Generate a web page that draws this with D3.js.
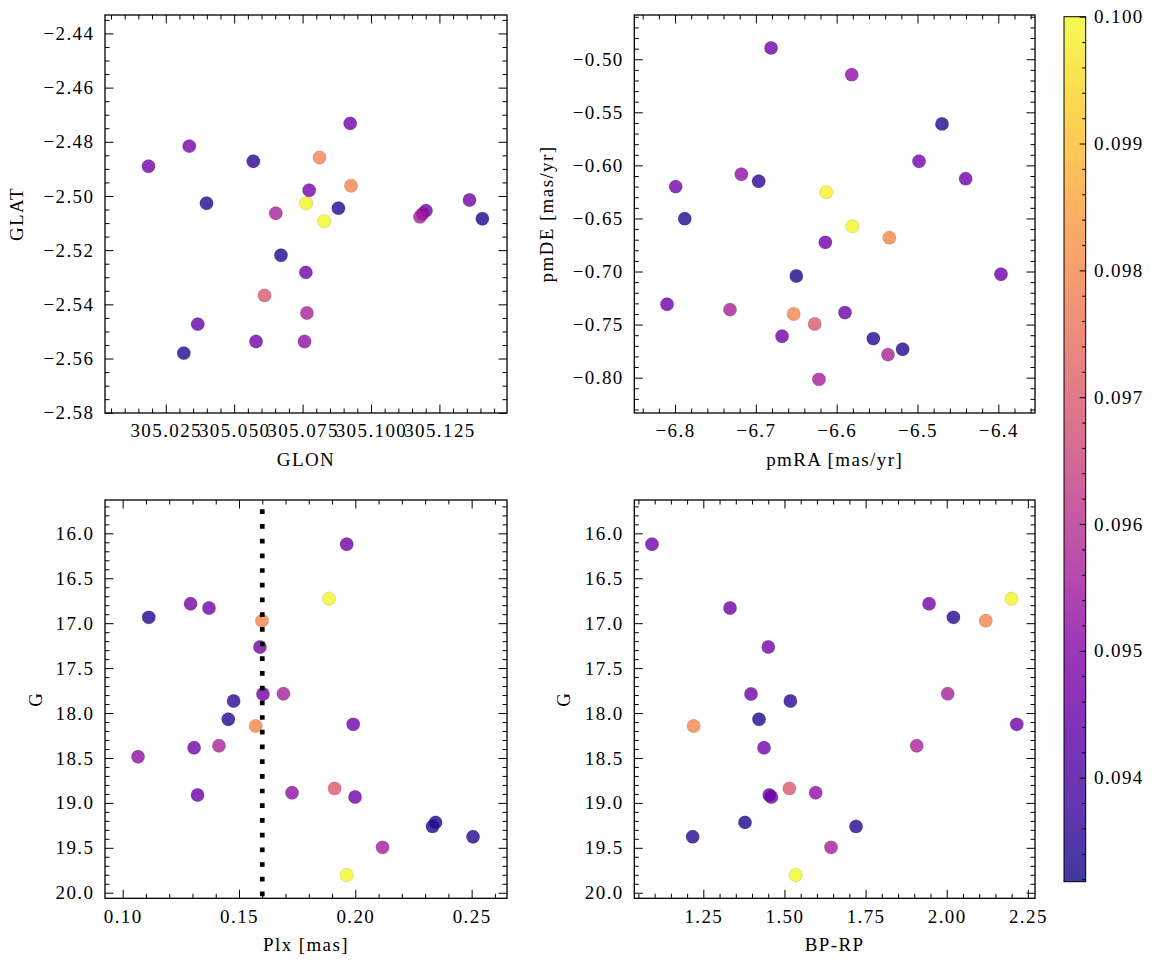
<!DOCTYPE html>
<html><head><meta charset="utf-8">
<script src="https://cdn.jsdelivr.net/npm/d3@7"></script>
<style>body{margin:0;background:#fff;}</style></head><body>
<svg id="c" width="1155" height="965"></svg>
<script>
// ---- data (25 stars) ----
const glon = [305.0187,305.0763,305.0336,305.0924,305.0399,305.0812,305.0774,305.1201,305.0652,305.0570,305.0881,305.1360,305.0927,305.0766,305.0762,305.0757,305.0611,305.1188,305.0367,305.0580,305.1407,305.0671,305.0316,305.1179,305.0829];
const glat = [-2.4890,-2.5027,-2.4816,-2.4732,-2.5027,-2.4858,-2.4979,-2.5054,-2.5064,-2.4872,-2.5045,-2.5015,-2.4962,-2.5432,-2.5282,-2.5537,-2.5367,-2.5066,-2.5473,-2.5537,-2.5084,-2.5219,-2.5580,-2.5077,-2.5093];
const pmra = [-6.6812,-6.6128,-6.4981,-6.4404,-6.4697,-6.5348,-6.7992,-6.6140,-6.7320,-6.6965,-6.7880,-6.3967,-6.6532,-6.5365,-6.8099,-6.5814,-6.6272,-6.7179,-6.5897,-6.6676,-6.6499,-6.5546,-6.5184,-6.6219,-6.5806];
const pmde = [-0.4893,-0.6253,-0.5961,-0.6125,-0.5609,-0.6681,-0.6200,-0.6725,-0.7359,-0.6150,-0.6502,-0.7026,-0.7400,-0.7783,-0.7309,-0.5145,-0.7494,-0.6084,-0.7387,-0.7610,-0.7042,-0.7632,-0.7733,-0.8016,-0.6574];
const plx  = [0.1963,0.1887,0.1292,0.1371,0.1112,0.1599,0.1590,0.1603,0.1691,0.1477,0.1454,0.1991,0.1572,0.1414,0.1307,0.1066,0.1911,0.1728,0.1322,0.1999,0.2345,0.2332,0.2506,0.2117,0.1963];
const gmag = [16.122,16.727,16.783,16.831,16.935,16.972,17.265,17.788,17.785,17.866,18.070,18.126,18.145,18.364,18.386,18.486,18.839,18.887,18.913,18.935,19.217,19.262,19.377,19.495,19.803];
const bprp = [1.0918,2.1994,1.9456,1.3322,2.0206,2.1202,1.4503,1.3969,2.0031,1.5182,1.4216,2.2158,1.2202,1.9076,1.4370,NaN,1.5151,1.5962,1.4534,1.4596,1.3784,1.7206,1.2171,1.6435,1.5346];
const cval = [0.0946,0.0999,0.0947,0.0946,0.0934,0.0980,0.0947,0.0946,0.0957,0.0935,0.0934,0.0946,0.0980,0.0957,0.0946,0.0952,0.0970,0.0952,0.0945,0.0946,0.0933,0.0934,0.0934,0.0956,0.1000];
const plxCut = 0.16;
const plxCutG = [15.733, 20.3];
const cbRange = [0.09318, 0.1000];
const cbMajor = [0.094,0.095,0.096,0.097,0.098,0.099,0.100];

// ---- drawing ----
const svg = d3.select("#c");
const color = d3.scaleSequential(d3.interpolatePlasma).domain(cbRange);
const FONT = '"Liberation Serif","Times New Roman",serif';
const FS = 19, LS = 1.4;

function tickVals(d, step){
  const lo=Math.min(d[0],d[1]), hi=Math.max(d[0],d[1]);
  const a=Math.ceil(lo/step-1e-6), b=Math.floor(hi/step+1e-6);
  return d3.range(a,b+1).map(i=>+(i*step).toFixed(6));
}
function minorOf(d, step, maj){
  return tickVals(d, step).filter(v=>!maj.some(m=>Math.abs(m-v)<step/10));
}
function txt(sel){
  return sel.style("font-family",FONT).style("font-size",FS+"px").style("letter-spacing",LS+"px").attr("fill","#000");
}

const panels = [
  {box:[105,15,507,413], xd:[305.0028,305.1497], yd:[-2.5801,-2.4332], xs:glon, ys:glat,
   xMaj:0.025,xMin:0.005,yMaj:0.02,yMin:0.005, xf:d3.format(".3f"), yf:d3.format(".2f"), xl:"GLON", yl:"GLAT", ylOff:81.7},
  {box:[634.3,15,1035,413], xd:[-6.8504,-6.3546], yd:[-0.8333,-0.4583], xs:pmra, ys:pmde,
   xMaj:0.1,xMin:0.02,yMaj:0.05,yMin:0.01, xf:d3.format(".1f"), yf:d3.format(".2f"), xl:"pmRA [mas/yr]", yl:"pmDE [mas/yr]", ylOff:81},
  {box:[105,500,507,898.3], xd:[0.0924,0.2652], yd:[20.062,15.629], xs:plx, ys:gmag,
   xMaj:0.05,xMin:0.01,yMaj:0.5,yMin:0.1, xf:d3.format(".2f"), yf:d3.format(".1f"), xl:"Plx [mas]", yl:"G", ylOff:63.5, vline:true},
  {box:[634.3,500,1035,898.3], xd:[1.0373,2.272], yd:[20.062,15.629], xs:bprp, ys:gmag,
   xMaj:0.25,xMin:0.05,yMaj:0.5,yMin:0.1, xf:d3.format(".2f"), yf:d3.format(".1f"), xl:"BP-RP", yl:"G", ylOff:64.5}
];

function styleAxis(g){
  g.select(".domain").remove();
  g.selectAll("line").attr("stroke","#000").attr("stroke-width",1);
  txt(g.selectAll("text"));
}

panels.forEach((p,pi)=>{
  const [x0,y0,x1,y1]=p.box;
  const x=d3.scaleLinear().domain(p.xd).range([x0,x1]);
  const y=d3.scaleLinear().domain(p.yd).range([y1,y0]);
  const xMaj=tickVals(p.xd,p.xMaj), xMin=minorOf(p.xd,p.xMin,xMaj);
  const yMaj=tickVals(p.yd,p.yMaj), yMin=minorOf(p.yd,p.yMin,yMaj);
  const g=svg.append("g");
  const clipId="clip"+pi;
  svg.append("clipPath").attr("id",clipId).append("rect")
    .attr("x",x0).attr("y",y0).attr("width",x1-x0).attr("height",y1-y0);

  const idx=d3.range(p.xs.length).filter(i=>isFinite(p.xs[i])&&isFinite(p.ys[i]));
  g.append("g").attr("clip-path",`url(#${clipId})`).selectAll("circle").data(idx).join("circle")
    .attr("cx",i=>x(p.xs[i])).attr("cy",i=>y(p.ys[i])).attr("r",6.7)
    .attr("fill",i=>color(cval[i])).attr("fill-opacity",0.8)
    .attr("stroke","#000").attr("stroke-opacity",0.18).attr("stroke-width",0.6);

  if(p.vline){
    g.append("line").attr("clip-path",`url(#${clipId})`)
      .attr("x1",x(plxCut)).attr("x2",x(plxCut))
      .attr("y1",y(plxCutG[0])).attr("y2",y(plxCutG[1]))
      .attr("stroke","#000").attr("stroke-width",4.7).attr("stroke-dasharray","4.7,10");
  }

  const mk=(axis,vals,size,fmt,pad)=>axis.tickValues(vals).tickSize(size).tickPadding(pad).tickFormat(fmt);
  const noF=()=> "";
  g.append("g").attr("transform",`translate(0,${y1})`).call(mk(d3.axisBottom(x),xMaj,-8.5,p.xf,11)).call(styleAxis);
  g.append("g").attr("transform",`translate(0,${y1})`).call(mk(d3.axisBottom(x),xMin,-4.5,noF,0)).call(styleAxis);
  g.append("g").attr("transform",`translate(0,${y0})`).call(mk(d3.axisTop(x),xMaj,-8.5,noF,0)).call(styleAxis);
  g.append("g").attr("transform",`translate(0,${y0})`).call(mk(d3.axisTop(x),xMin,-4.5,noF,0)).call(styleAxis);
  g.append("g").attr("transform",`translate(${x0},0)`).call(mk(d3.axisLeft(y),yMaj,-8.5,p.yf,10.6)).call(styleAxis);
  g.append("g").attr("transform",`translate(${x0},0)`).call(mk(d3.axisLeft(y),yMin,-4.5,noF,0)).call(styleAxis);
  g.append("g").attr("transform",`translate(${x1},0)`).call(mk(d3.axisRight(y),yMaj,-8.5,noF,0)).call(styleAxis);
  g.append("g").attr("transform",`translate(${x1},0)`).call(mk(d3.axisRight(y),yMin,-4.5,noF,0)).call(styleAxis);

  g.append("rect").attr("x",x0).attr("y",y0).attr("width",x1-x0).attr("height",y1-y0)
    .attr("fill","none").attr("stroke","#000").attr("stroke-width",1.3);

  txt(g.append("text").attr("x",(x0+x1)/2).attr("y",y1+52.7).attr("text-anchor","middle")).text(p.xl);
  txt(g.append("text").attr("transform",`translate(${x0-p.ylOff},${(y0+y1)/2}) rotate(-90)`)
    .attr("text-anchor","middle")).text(p.yl);
});

// ---- colorbar ----
const cb={x0:1064,x1:1085.7,y0:16.7,y1:881.7};
const cs=d3.scaleLinear().domain(cbRange).range([cb.y1,cb.y0]);
const grad=svg.append("defs").append("linearGradient").attr("id","cbg")
  .attr("x1",0).attr("y1",1).attr("x2",0).attr("y2",0);
d3.range(0,1.0001,0.02).forEach(t=>{
  grad.append("stop").attr("offset",t).attr("stop-color",d3.interpolatePlasma(t)).attr("stop-opacity",0.8);
});
svg.append("rect").attr("x",cb.x0).attr("y",cb.y0).attr("width",cb.x1-cb.x0).attr("height",cb.y1-cb.y0)
  .attr("fill","url(#cbg)");
const cbMinor=minorOf(cbRange,0.0002,cbMajor);
svg.append("g").attr("transform",`translate(${cb.x1},0)`)
  .call(d3.axisRight(cs).tickValues(cbMajor).tickSize(-6).tickPadding(8.3).tickFormat(d3.format(".3f"))).call(styleAxis);
svg.append("g").attr("transform",`translate(${cb.x1},0)`)
  .call(d3.axisRight(cs).tickValues(cbMinor).tickSize(-3.5).tickFormat(()=>"")).call(styleAxis);
svg.append("rect").attr("x",cb.x0).attr("y",cb.y0).attr("width",cb.x1-cb.x0).attr("height",cb.y1-cb.y0)
  .attr("fill","none").attr("stroke","#000").attr("stroke-width",1);
</script>
</body></html>
